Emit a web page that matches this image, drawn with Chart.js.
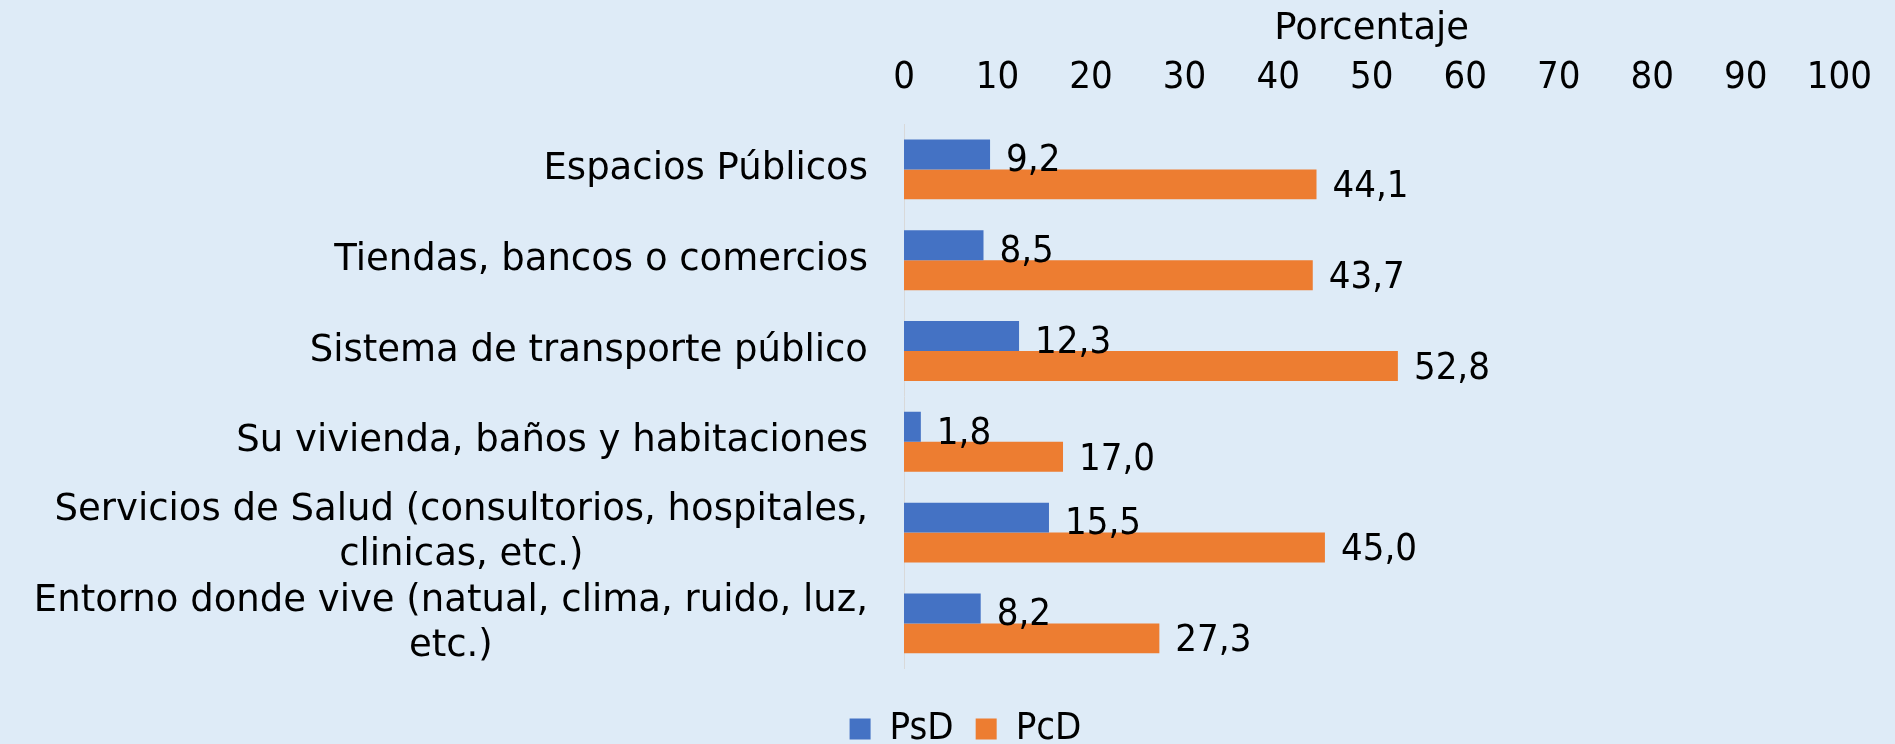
<!DOCTYPE html>
<html>
<head>
<meta charset="utf-8">
<script src="https://cdn.jsdelivr.net/npm/chart.js@4/dist/chart.umd.min.js"></script>
<style>
  html, body { margin: 0; padding: 0; background: #deebf7; }
  #wrap { width: 1895px; height: 744px; }
</style>
</head>
<body>
<div id="wrap"><canvas id="c"></canvas></div>
<script>
const categories = [
  ['Espacios Públicos'],
  ['Tiendas, bancos o comercios'],
  ['Sistema de transporte público'],
  ['Su vivienda, baños y habitaciones'],
  ['Servicios de Salud (consultorios, hospitales,', 'clinicas, etc.)'],
  ['Entorno donde vive (natual, clima, ruido, luz,', 'etc.)']
];
const psd = [9.2, 8.5, 12.3, 1.8, 15.5, 8.2];
const pcd = [44.1, 43.7, 52.8, 17.0, 45.0, 27.3];
const seriesNames = ['PsD', 'PcD'];
const xTicks = [0, 10, 20, 30, 40, 50, 60, 70, 80, 90, 100];

const TXT = '"DejaVu Sans", Verdana, sans-serif';
const NUM = '"DejaVu Sans Condensed", "DejaVu Sans", sans-serif';

// category labels: block right-aligned to the axis, lines centred in the block
const catLabels = {
  id: 'catLabels',
  afterDraw(chart) {
    const ctx = chart.ctx, y = chart.scales.y;
    ctx.save();
    ctx.font = '37px ' + TXT;
    ctx.fillStyle = '#000';
    ctx.textAlign = 'center';
    ctx.textBaseline = 'middle';
    const right = chart.chartArea.left - 36, lh = 45;
    categories.forEach((lines, i) => {
      const cy = y.getPixelForTick(i);
      const w = Math.max(...lines.map(l => ctx.measureText(l).width));
      lines.forEach((l, k) => {
        ctx.fillText(l, right - w / 2, cy + (k - (lines.length - 1) / 2) * lh);
      });
    });
    ctx.restore();
  }
};

// value labels past the bar ends
const valLabels = {
  id: 'valLabels',
  afterDatasetsDraw(chart) {
    const ctx = chart.ctx;
    const dy = [7, 3];
    ctx.save();
    ctx.font = '38px ' + NUM;
    ctx.fillStyle = '#000';
    ctx.textAlign = 'left';
    ctx.textBaseline = 'middle';
    chart.data.datasets.forEach((ds, di) => {
      chart.getDatasetMeta(di).data.forEach((bar, i) => {
        ctx.fillText(ds.data[i].toFixed(1).replace('.', ','), bar.x + 16, bar.y + dy[di]);
      });
    });
    ctx.restore();
  }
};

new Chart(document.getElementById('c'), {
  type: 'bar',
  data: {
    labels: categories.map(c => c.join(' ')),
    datasets: [
      { label: seriesNames[0], data: psd, backgroundColor: '#4472c4' },
      { label: seriesNames[1], data: pcd, backgroundColor: '#ed7d31' }
    ]
  },
  options: {
    indexAxis: 'y',
    responsive: true,
    maintainAspectRatio: false,
    animation: false,
    categoryPercentage: 0.66,
    barPercentage: 1.0,
    layout: { padding: { left: 76, right: 40, top: 0, bottom: -14 } },
    scales: {
      x: {
        position: 'top',
        min: 0, max: 100,
        afterBuildTicks: s => { s.ticks = xTicks.map(v => ({ value: v })); },
        ticks: { font: { family: NUM, size: 38 }, color: '#000', padding: 23, maxRotation: 0 },
        grid: { display: false, drawTicks: false },
        border: { display: false },
        title: { display: true, text: 'Porcentaje', color: '#000',
                 font: { family: TXT, size: 37 }, padding: { top: 7, bottom: -19 } }
      },
      y: {
        ticks: { display: false },
        grid: { display: false },
        border: { display: true, color: '#d9d9d9', width: 1 },
        afterFit: s => { s.width = 828; }
      }
    },
    plugins: {
      legend: {
        position: 'bottom',
        title: { display: true, text: '', font: { size: 1 }, padding: { top: 18, bottom: 0 } },
        labels: { font: { family: NUM, size: 38 }, color: '#000', boxWidth: 21, boxHeight: 21, padding: 22 }
      },
      tooltip: { enabled: false }
    }
  },
  plugins: [catLabels, valLabels]
});
</script>
</body>
</html>
